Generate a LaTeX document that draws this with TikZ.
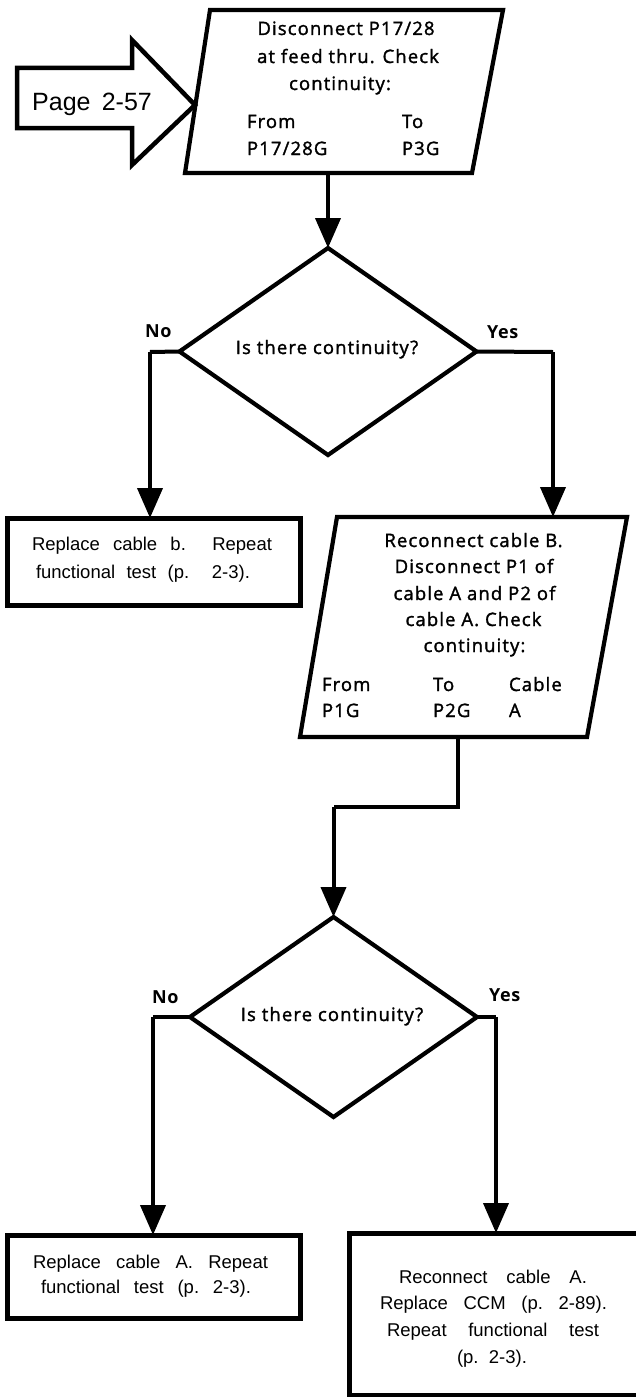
\documentclass[tikz,border=0pt]{standalone}
\usepackage{fontspec}
\setmainfont{Open Sans}
\newfontfamily\flowfont[LetterSpace=6,FakeBold=1.6]{Open Sans}
\newfontfamily\flowbold[LetterSpace=4]{Open Sans Bold}
\newfontfamily\notefont{Liberation Sans}
\usetikzlibrary{shapes.geometric,arrows.meta}

\begin{document}
\begin{tikzpicture}[x=1pt,y=-1pt,
  outline/.style={draw, line width=4.2pt, line join=miter},
  framebox/.style={draw, rectangle, line width=5pt, inner sep=0pt, outer sep=0pt},
  decision/.style={draw, diamond, line width=4.2pt, inner sep=0pt, outer sep=0pt},
  link/.style={line width=4pt},
  flow/.style={line width=4pt, -{Triangle[length=30pt,width=25pt]}},
  txt/.style={inner sep=0pt, outer sep=0pt, font=\flowfont\fontsize{18.5}{21}\selectfont},
  ans/.style={inner sep=0pt, outer sep=0pt, anchor=base west, font=\flowbold\fontsize{18}{21}\selectfont},
  note/.style={inner sep=0pt, outer sep=0pt, anchor=base west, font=\notefont\fontsize{18.5}{21}\selectfont\frenchspacing},
]
\useasboundingbox (0,0) rectangle (635,1397);

% entry arrow from the previous page
\draw[outline, line width=4.5pt] (17,68) -- (132,68) -- (132,40) -- (195,105)
  -- (132,165) -- (132,128) -- (17,128) -- cycle;
\node[inner sep=0pt, anchor=base west, font=\notefont\fontsize{25}{28}\selectfont]
  (pagelbl) at (32,110) {Page\hspace{0.45em}2-57};

% first check: disconnect P17/28
\coordinate (p1a) at (210,10);
\coordinate (p1b) at (503,10);
\coordinate (p1c) at (472,173);
\coordinate (p1d) at (185,173);
\draw[outline] (p1a) -- (p1b) -- (p1c) -- (p1d) -- cycle;
\node[txt, anchor=base] (p1l1) at (346,35) {Disconnect P17/28};
\node[txt, anchor=base] (p1l2) at (348,63) {at feed thru. Check};
\node[txt, anchor=base] (p1l3) at (340,90) {continuity:};
\node[txt, anchor=base west] (p1l4) at (247,128) {From};
\node[txt, anchor=base west] (p1l5) at (402,128) {To};
\node[txt, anchor=base west] (p1l6) at (247,155) {P17/28G};
\node[txt, anchor=base west] (p1l7) at (402,155) {P3G};
\coordinate (p1out) at (328,173);

% first decision
\node[decision, minimum width=297pt, minimum height=207pt] (d1) at (328,351.5) {};
\node[txt, anchor=base] (q1) at (327,354) {Is there continuity?};
\node[ans] (no1) at (145,337) {No};
\node[ans] (yes1) at (487,338) {Yes};
\draw[flow] (p1out) -- (d1.north);

% replace cable b
\node[framebox, minimum width=293pt, minimum height=87pt] (rb) at (153.5,561.5) {};
\node[note] (rb1) at (32,550) {\makebox[240pt][s]{Replace cable b.\ \ Repeat}};
\node[note] (rb2) at (36,578) {\makebox[214pt][s]{functional test (p.\ \ 2-3).}};
\coordinate (no1c) at (150,352);
\draw[link] (d1.west) -- (no1c);
\draw[flow] (no1c) -- (no1c |- rb.north);

% second check: cable A
\coordinate (p2a) at (337,517);
\coordinate (p2b) at (627,517);
\coordinate (p2c) at (587,737);
\coordinate (p2d) at (300,737);
\draw[outline] (p2a) -- (p2b) -- (p2c) -- (p2d) -- cycle;
\coordinate (yes1c) at (553,352);
\coordinate (p2in) at (553,517);
\draw[link] (d1.east) -- (yes1c);
\draw[flow] (yes1c) -- (p2in);
\node[txt, anchor=base] (p2l1) at (473.5,547) {Reconnect cable B.};
\node[txt, anchor=base] (p2l2) at (474,573) {Disconnect P1 of};
\node[txt, anchor=base] (p2l3) at (474.5,600) {cable A and P2 of};
\node[txt, anchor=base] (p2l4) at (473.5,626) {cable A. Check};
\node[txt, anchor=base] (p2l5) at (474.5,652) {continuity:};
\node[txt, anchor=base west] (p2l6) at (322,691) {From};
\node[txt, anchor=base west] (p2l7) at (433,691) {To};
\node[txt, anchor=base west] (p2l8) at (509,691) {Cable};
\node[txt, anchor=base west] (p2l9) at (322,717) {P1G};
\node[txt, anchor=base west] (p2l10) at (433,717) {P2G};
\node[txt, anchor=base west] (p2l11) at (509,717) {A};

% second decision
\node[decision, minimum width=287pt, minimum height=200pt] (d2) at (333.5,1017) {};
\node[txt, anchor=base] (q2) at (332,1021) {Is there continuity?};
\node[ans] (no2) at (152,1003) {No};
\node[ans] (yes2) at (489,1001) {Yes};
\coordinate (p2out) at (458,737);
\coordinate (jog1) at (458,807);
\coordinate (jog2) at (333.5,807);
\draw[link] (p2out) -- (jog1) -- (jog2);
\draw[flow] (jog2) -- (d2.north);

% replace cable A
\node[framebox, minimum width=293pt, minimum height=83pt] (ra) at (153.5,1276.5) {};
\node[note] (ra1) at (33,1268) {\makebox[235pt][s]{Replace cable A. Repeat}};
\node[note] (ra2) at (41,1293) {\makebox[210pt][s]{functional test (p. 2-3).}};
\coordinate (no2c) at (153,1017);
\draw[link] (d2.west) -- (no2c);
\draw[flow] (no2c) -- (no2c |- ra.north);

% reconnect cable A, replace CCM
\node[framebox, minimum width=291pt, minimum height=162pt] (rc) at (494.5,1314) {};
\node[note] (rc1) at (399,1283) {\makebox[188pt][s]{Reconnect cable A.}};
\node[note] (rc2) at (380,1309) {\makebox[227pt][s]{Replace CCM (p. 2-89).}};
\node[note] (rc3) at (387,1336) {\makebox[212pt][s]{Repeat functional test}};
\node[note] (rc4) at (457,1363) {\makebox[70pt][s]{(p. 2-3).}};
\coordinate (yes2c) at (496,1017);
\draw[link] (d2.east) -- (yes2c);
\draw[flow] (yes2c) -- (yes2c |- rc.north);

\end{tikzpicture}
\end{document}
